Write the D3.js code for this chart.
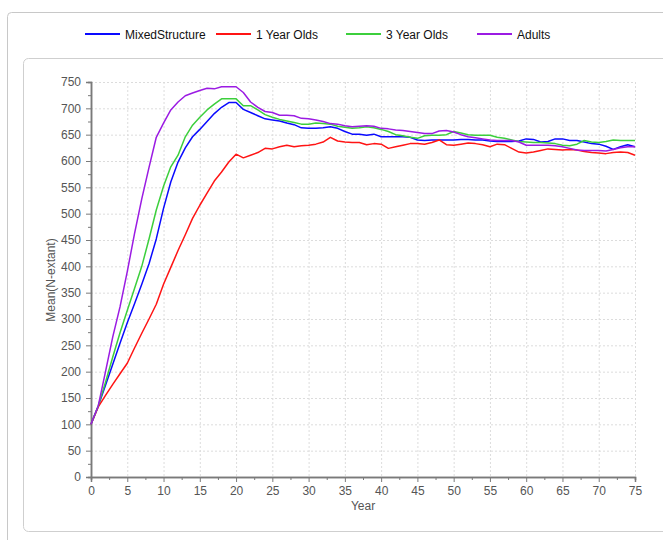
<!DOCTYPE html>
<html>
<head>
<meta charset="utf-8">
<script src="https://cdn.jsdelivr.net/npm/d3@7"></script>
<style>
  html, body { margin: 0; padding: 0; background: #fff; }
  svg { display: block; font-family: Arial, "Liberation Sans", sans-serif; }
</style>
</head>
<body>
<svg id="chart" width="663" height="540"></svg>
<script>
// Simulated mean population size (N-extant) per year, one value per year 0..75
const years = d3.range(0, 76);

const mixedStructure = [100,135,174,214,254,293,329,366,405,452,510,560,598,625,646,660,675,690,702,711,
  711,698,692,686,680,678,676,672,669,663,662,662,663,665,662,656,651,651,649,651,
  646,646,646,646,645,640,639,640,640,640,640,641,641,640,640,638,637,637,637,638,
  642,641,636,637,642,642,639,639,636,633,632,628,622,627,631,627];

const oneYearOlds = [100,133,155,176,196,216,245,273,300,328,366,398,430,460,491,516,539,562,579,598,
  613,606,611,616,624,623,627,630,627,629,630,632,636,645,638,636,635,635,631,633,
  632,624,627,630,633,633,632,635,640,631,630,632,634,633,631,627,632,631,624,617,
  615,617,620,623,622,621,622,621,618,616,615,614,616,617,616,611];

const threeYearOlds = [100,135,180,228,274,316,358,400,452,507,552,589,611,646,668,683,697,708,718,718,
  718,705,705,697,688,683,679,676,673,670,670,672,671,670,666,664,662,663,665,663,
  660,656,650,648,645,643,648,649,649,650,656,653,650,649,649,649,645,643,640,637,
  636,635,635,634,633,630,629,632,639,636,635,637,640,639,639,639];

const adults = [100,135,200,266,323,390,462,528,588,645,672,697,712,724,729,734,738,737,741,741,
  741,730,712,702,694,692,687,687,686,681,680,678,675,671,670,667,665,666,667,666,
  662,661,659,658,656,654,652,652,657,658,655,650,646,644,642,640,639,639,639,636,
  630,630,630,630,629,627,624,621,620,620,620,619,622,625,627,627];

const seriesNames = ["MixedStructure", "1 Year Olds", "3 Year Olds", "Adults"];
const seriesValues = [mixedStructure, oneYearOlds, threeYearOlds, adults];
const seriesColors = ["#0a0aff", "#ff1414", "#3ccf3c", "#9b1be3"];

const xTicks = d3.range(0, 76, 5);
const yTicks = d3.range(0, 751, 50);

const svg = d3.select("#chart");

// panel frames
svg.append("path")
  .attr("d", "M7.5,540 V16.5 Q7.5,12.5 11.5,12.5 H663")
  .attr("fill", "none").attr("stroke", "#c8c8c8");
svg.append("rect")
  .attr("x", 23.5).attr("y", 58.5).attr("width", 700).attr("height", 473)
  .attr("rx", 5).attr("fill", "none").attr("stroke", "#cfcfcf");

const x = d3.scaleLinear().domain([0, 75]).range([91, 635]);
const y = d3.scaleLinear().domain([0, 750]).range([477, 82]);

// grid
const grid = svg.append("g").attr("stroke", "#dcdcdc").attr("stroke-dasharray", "2,2");
grid.selectAll("line.v").data(xTicks.filter(d => d > 0)).join("line")
  .attr("x1", d => x(d) + 0.5).attr("x2", d => x(d) + 0.5)
  .attr("y1", y(750)).attr("y2", y(0));
grid.selectAll("line.h").data(yTicks.filter(d => d > 0)).join("line")
  .attr("x1", x(0)).attr("x2", x(75))
  .attr("y1", d => y(d) + 0.5).attr("y2", d => y(d) + 0.5);

// axes
const axisColor = "#7a7a7a";
const labelColor = "#555";

const xAxis = svg.append("g").attr("transform", `translate(0,${y(0)})`)
  .call(d3.axisBottom(x).tickValues(xTicks).tickSize(5).tickPadding(4));
const xMinor = svg.append("g").attr("transform", `translate(0,${y(0)})`)
  .call(d3.axisBottom(x).tickValues(d3.range(2.5, 75, 5)).tickSize(3).tickFormat(""));
const yAxis = svg.append("g").attr("transform", `translate(${x(0)},0)`)
  .call(d3.axisLeft(y).tickValues(yTicks).tickSize(5).tickPadding(5));
const yMinor = svg.append("g").attr("transform", `translate(${x(0)},0)`)
  .call(d3.axisLeft(y).tickValues(d3.range(25, 750, 50)).tickSize(3).tickFormat(""));

[xAxis, xMinor, yAxis, yMinor].forEach(g => {
  g.select(".domain").attr("stroke", axisColor).attr("stroke-width", 1.5);
  g.selectAll(".tick line").attr("stroke", axisColor);
  g.selectAll(".tick text").attr("fill", labelColor).attr("font-size", 12)
    .attr("font-family", "Arial, 'Liberation Sans', sans-serif");
});

// axis titles
svg.append("text").attr("x", 363).attr("y", 510).attr("text-anchor", "middle")
  .attr("fill", labelColor).attr("font-size", 12).text("Year");
svg.append("text").attr("transform", "translate(55,280) rotate(-90)")
  .attr("text-anchor", "middle").attr("fill", labelColor).attr("font-size", 12)
  .text("Mean(N-extant)");

// series lines
const line = d3.line().x((d, i) => x(years[i])).y(d => y(d));
svg.append("g").selectAll("path").data(seriesValues).join("path")
  .attr("d", d => line(d))
  .attr("fill", "none")
  .attr("stroke", (d, i) => seriesColors[i])
  .attr("stroke-width", 1.5)
  .attr("stroke-linejoin", "round");

// legend
const legendX = [85, 216, 346, 477];
const legend = svg.append("g").selectAll("g").data(seriesNames).join("g")
  .attr("transform", (d, i) => `translate(${legendX[i]},34)`);
legend.append("line").attr("x1", 0).attr("x2", 35).attr("y1", 0).attr("y2", 0)
  .attr("stroke", (d, i) => seriesColors[i]).attr("stroke-width", 2);
legend.append("text").attr("x", 40).attr("y", 4.5).attr("font-size", 12)
  .attr("fill", "#111").text(d => d);
</script>
</body>
</html>
